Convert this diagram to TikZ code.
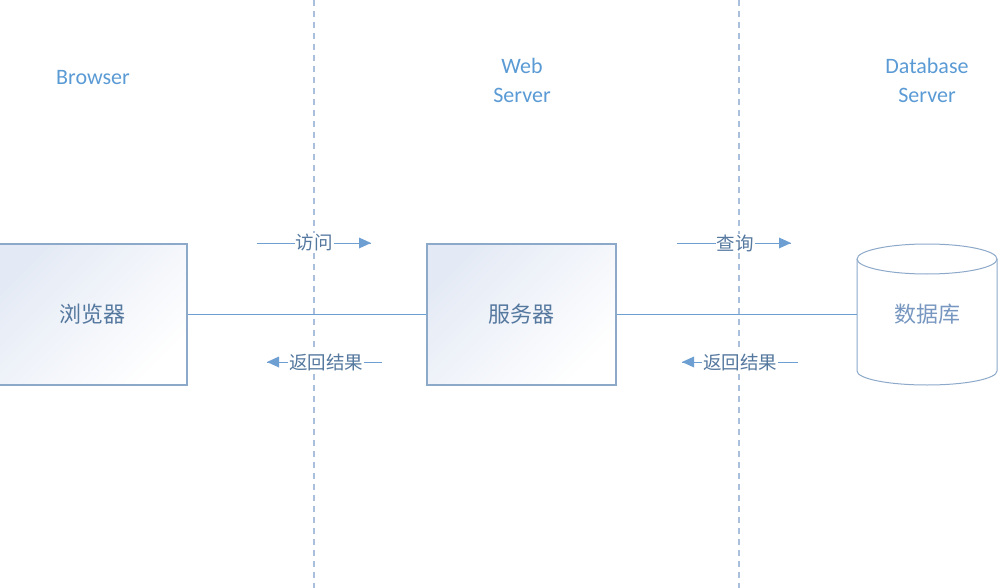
\documentclass[tikz,border=0pt]{standalone}
\usepackage{fontspec}
\setmainfont{Carlito}
\newfontfamily\cjk{Noto Sans CJK SC}
\usetikzlibrary{arrows.meta}
\definecolor{lane}{HTML}{A9BFDB}
\definecolor{wire}{HTML}{6E9FD2}
\definecolor{frame}{HTML}{8DA9CA}
\definecolor{heading}{HTML}{5B9BD5}
\definecolor{boxtext}{HTML}{55789F}
\definecolor{dbtext}{HTML}{7797C0}
\definecolor{shadeA}{HTML}{E4EAF5}
\tikzset{
  lanehead/.style={text=heading, font=\fontsize{22}{29}\selectfont, align=center},
  procbox/.style={draw=frame, line width=1.2pt,
    left color=shadeA, right color=white, shading angle=45,
    minimum width=189pt, minimum height=141pt,
    text=boxtext, font=\cjk\fontsize{22}{24}\selectfont},
  link/.style={draw=wire, line width=1pt},
  msg/.style={draw=wire, line width=1pt},
  msglabel/.style={fill=white, inner sep=1pt, text=boxtext, font=\cjk\fontsize{18.5}{20}\selectfont},
  divider/.style={draw=lane, line width=1.5pt, dash pattern=on 6pt off 5pt}
}
\begin{document}
\begin{tikzpicture}[x=1pt,y=-1pt]
  \useasboundingbox (0,0) rectangle (998,588);
  \clip (0,0) rectangle (998,588);
  \fill[white] (0,0) rectangle (998,588);

  % lane dividers
  \coordinate (d1top) at (314,0);
  \coordinate (d1bot) at (314,588);
  \coordinate (d2top) at (739,0);
  \coordinate (d2bot) at (739,588);
  \draw[divider] (d1top) -- (d1bot);
  \draw[divider] (d2top) -- (d2bot);

  % lane headings
  \node[lanehead] (hb) at (93,78) {Browser};
  \node[lanehead] (hw) at (522,80) {Web\\Server};
  \node[lanehead] (hd) at (927,80) {Database\\Server};

  % browser and web server
  \node[procbox] (browser) at (92.5,314.5) {浏览器};
  \node[procbox] (server) at (521.5,314.5) {服务器};

  % database cylinder
  \node[minimum width=140pt, minimum height=141pt, inner sep=0pt] (db) at (927,314.5) {};
  \draw[frame, line width=1pt, fill=white]
    (857,259) -- (857,371) arc[start angle=180, end angle=360, x radius=70pt, y radius=14pt]
    -- (997,259) arc[start angle=0, end angle=180, x radius=70pt, y radius=15pt] -- cycle;
  \draw[frame, line width=1pt]
    (857,259) arc[start angle=180, end angle=360, x radius=70pt, y radius=15pt];
  \node[text=dbtext, font=\cjk\fontsize{22}{24}\selectfont] at (db.center) {数据库};

  % connections
  \draw[link] (browser.east) -- (server.west);
  \draw[link] (server.east) -- (db.west);

  % messages
  \coordinate (m1a) at (257,243);
  \coordinate (m1b) at (371,243);
  \draw[msg] (m1a) -- (m1b);
  \fill[wire] (m1b) -- ++(-12,-5.5) -- ++(0,11) -- cycle;
  \node[msglabel] (m1) at (314,243) {访问};

  \coordinate (m2a) at (382,362);
  \coordinate (m2b) at (267,362);
  \draw[msg] (m2a) -- (m2b);
  \fill[wire] (m2b) -- ++(12,-5.5) -- ++(0,11) -- cycle;
  \node[msglabel] (m2) at (326,362) {返回结果};

  \coordinate (m3a) at (677,243);
  \coordinate (m3b) at (791,243);
  \draw[msg] (m3a) -- (m3b);
  \fill[wire] (m3b) -- ++(-12,-5.5) -- ++(0,11) -- cycle;
  \node[msglabel] (m3) at (735,243) {查询};

  \coordinate (m4a) at (798,362);
  \coordinate (m4b) at (682,362);
  \draw[msg] (m4a) -- (m4b);
  \fill[wire] (m4b) -- ++(12,-5.5) -- ++(0,11) -- cycle;
  \node[msglabel] (m4) at (740,362) {返回结果};
\end{tikzpicture}
\end{document}
